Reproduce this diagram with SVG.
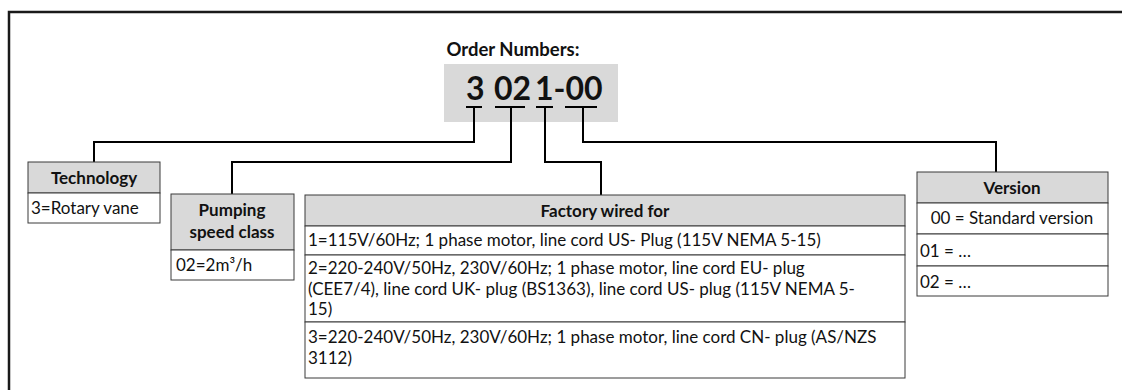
<svg xmlns="http://www.w3.org/2000/svg" width="1122" height="390" viewBox="0 0 1122 390">
<style>
text{font-family:Lato,"Liberation Sans",sans-serif;fill:#111;}
.b{font-weight:bold;}
.t{font-size:17px;}
.hd{fill:#d9d9d9;stroke:#3a3a3a;stroke-width:1;}
.cell{fill:#fff;stroke:#3a3a3a;stroke-width:1;}
.con{fill:none;stroke:#000;stroke-width:2;}
</style>
<rect width="1122" height="390" fill="#fff"/>
<path d="M9 390 V12 H1122" fill="none" stroke="#1a1a1a" stroke-width="2.5"/>
<g id="order">
<text x="513" y="56" class="b" font-size="18.5" text-anchor="middle">Order Numbers:</text>
<rect x="444" y="64" width="174" height="58" fill="#d9d9d9"/>
<text y="100" class="b" font-size="32"><tspan x="466">3</tspan><tspan x="494">02</tspan><tspan x="535">1-00</tspan></text>
<path d="M466 107H482M495 107H525M536 107H553M565 107H597" stroke="#000" stroke-width="2"/>
</g>
<g id="connectors">
<path class="con" d="M474 107V142H94V162"/>
<path class="con" d="M511 107V162H232V194"/>
<path class="con" d="M545 107V162H601V195"/>
<path class="con" d="M583 107V142H996V172"/>
</g>
<g id="technology">
<rect class="hd" x="28" y="162" width="132" height="31"/>
<rect class="cell" x="28" y="193" width="132" height="30"/>
<text x="94" y="184" class="t b" text-anchor="middle">Technology</text>
<text x="31" y="214" class="t">3=Rotary vane</text>
</g>
<g id="pumping">
<rect class="hd" x="171" y="194" width="123" height="56"/>
<rect class="cell" x="171" y="250" width="123" height="30"/>
<text x="232" y="216" class="t b" text-anchor="middle">Pumping</text>
<text x="232" y="238" class="t b" text-anchor="middle">speed class</text>
<text x="176" y="271" class="t">02=2m³/h</text>
</g>
<g id="factory">
<rect class="hd" x="305" y="195" width="600" height="31"/>
<rect class="cell" x="305" y="226" width="600" height="29"/>
<rect class="cell" x="305" y="255" width="600" height="67"/>
<rect class="cell" x="305" y="322" width="600" height="56"/>
<text x="605" y="217" class="t b" text-anchor="middle">Factory wired for</text>
<text x="308" y="246" class="t">1=115V/60Hz; 1 phase motor, line cord US- Plug (115V NEMA 5-15)</text>
<text x="308" y="274" class="t">2=220-240V/50Hz, 230V/60Hz; 1 phase motor, line cord EU- plug</text>
<text x="308" y="294.5" class="t">(CEE7/4), line cord UK- plug (BS1363), line cord US- plug (115V NEMA 5-</text>
<text x="308" y="315" class="t">15)</text>
<text x="308" y="343" class="t">3=220-240V/50Hz, 230V/60Hz; 1 phase motor, line cord CN- plug (AS/NZS</text>
<text x="308" y="363.5" class="t">3112)</text>
</g>
<g id="version">
<rect class="hd" x="917" y="172" width="191" height="31"/>
<rect class="cell" x="917" y="203" width="191" height="31"/>
<rect class="cell" x="917" y="234" width="191" height="32"/>
<rect class="cell" x="917" y="266" width="191" height="30"/>
<text x="1012" y="194" class="t b" text-anchor="middle">Version</text>
<text x="1012" y="224" class="t" text-anchor="middle">00 = Standard version</text>
<text x="920" y="257" class="t">01 = …</text>
<text x="920" y="288" class="t">02 = …</text>
</g>
</svg>
